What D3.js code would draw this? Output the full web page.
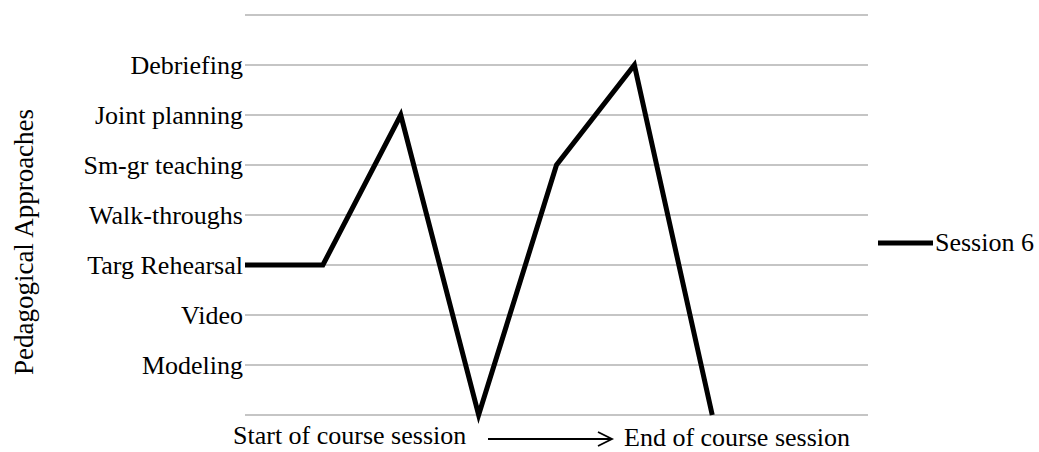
<!DOCTYPE html>
<html><head><meta charset="utf-8">
<script src="https://cdn.jsdelivr.net/npm/d3@7"></script>
<style>body{margin:0;background:#fff}svg{display:block}text{font-family:"Liberation Serif","Times New Roman",serif;fill:#000}</style>
</head><body><svg id="c" width="1039" height="452"></svg>
<script>
const categories = ["", "Modeling", "Video", "Targ Rehearsal", "Walk-throughs", "Sm-gr teaching", "Joint planning", "Debriefing", ""];
const steps = [0, 1, 2, 3, 4, 5, 6];
const session6 = [3, 3, 6, 0, 5, 7, 0];
const seriesName = "Session 6";
const yTitle = "Pedagogical Approaches";
const xStart = "Start of course session";
const xEnd = "End of course session";

const svg = d3.select("#c");
const L = 245, R = 868, T = 15, B = 415;
const x = d3.scaleLinear().domain([0, 8]).range([L, R]);
const y = d3.scaleLinear().domain([0, 8]).range([B, T]);

// gridlines
svg.append("g").selectAll("line").data(d3.range(0, 9)).join("line")
  .attr("x1", L).attr("x2", R).attr("y1", d => y(d)).attr("y2", d => y(d))
  .attr("stroke", "#8c8c8c").attr("stroke-width", 1.2);

// y axis labels
const yAxis = d3.axisLeft(y).tickValues(d3.range(1, 8)).tickSize(0).tickPadding(2)
  .tickFormat(d => categories[d]);
const ga = svg.append("g").attr("transform", `translate(${L},0)`).call(yAxis);
ga.select(".domain").remove();
ga.selectAll("text").attr("font-size", 26).attr("font-family", "Liberation Serif").attr("fill", "#000");

// line
const line = d3.line().x((d, i) => x(steps[i])).y(d => y(d));
svg.append("path").datum(session6).attr("d", line)
  .attr("fill", "none").attr("stroke", "#000").attr("stroke-width", 5).attr("stroke-linejoin", "miter");

// y title
svg.append("text").attr("transform", "translate(33,242) rotate(-90)")
  .attr("text-anchor", "middle").attr("font-size", 27).text(yTitle);

// bottom text
svg.append("text").attr("x", 233).attr("y", 444).attr("font-size", 26).text(xStart);
svg.append("text").attr("x", 624).attr("y", 446).attr("font-size", 26).text(xEnd);
svg.append("line").attr("x1", 488).attr("x2", 611).attr("y1", 439).attr("y2", 439)
  .attr("stroke", "#000").attr("stroke-width", 1.8);
svg.append("path").attr("d", "M598,432 L612,439 L598,446").attr("fill", "none")
  .attr("stroke", "#000").attr("stroke-width", 1.8);

// legend
svg.append("line").attr("x1", 878).attr("x2", 933).attr("y1", 243).attr("y2", 243)
  .attr("stroke", "#000").attr("stroke-width", 5);
svg.append("text").attr("x", 935).attr("y", 251).attr("font-size", 26).text(seriesName);
</script></body></html>
